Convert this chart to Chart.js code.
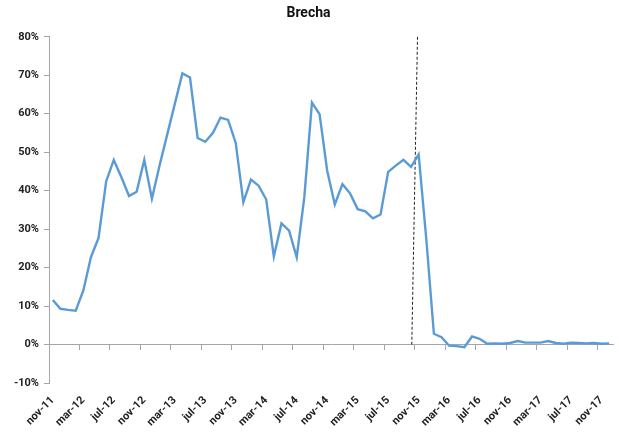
<!DOCTYPE html>
<html>
<head>
<meta charset="utf-8">
<script src="https://cdn.jsdelivr.net/npm/chart.js@4"></script>
<style>
  html, body { margin: 0; padding: 0; background: #fff; }
  #wrap { width: 619px; height: 433px; }
</style>
</head>
<body>
<div id="wrap"><canvas id="chart" width="619" height="433"></canvas></div>
<script>
const months = [
  "nov-11", "dic-11",
  "ene-12", "feb-12", "mar-12", "abr-12", "may-12", "jun-12", "jul-12", "ago-12", "sep-12", "oct-12", "nov-12", "dic-12",
  "ene-13", "feb-13", "mar-13", "abr-13", "may-13", "jun-13", "jul-13", "ago-13", "sep-13", "oct-13", "nov-13", "dic-13",
  "ene-14", "feb-14", "mar-14", "abr-14", "may-14", "jun-14", "jul-14", "ago-14", "sep-14", "oct-14", "nov-14", "dic-14",
  "ene-15", "feb-15", "mar-15", "abr-15", "may-15", "jun-15", "jul-15", "ago-15", "sep-15", "oct-15", "nov-15", "dic-15",
  "ene-16", "feb-16", "mar-16", "abr-16", "may-16", "jun-16", "jul-16", "ago-16", "sep-16", "oct-16", "nov-16", "dic-16",
  "ene-17", "feb-17", "mar-17", "abr-17", "may-17", "jun-17", "jul-17", "ago-17", "sep-17", "oct-17", "nov-17", "dic-17"
];

// brecha, en %
const brecha = [
  11.6, 9.3,
  9.0, 8.8, 14.0, 22.7, 27.7, 42.4, 48.0, 43.5, 38.6, 39.7, 48.0, 37.9,
  46.5, 54.5, 62.5, 70.5, 69.4, 53.7, 52.7, 55.0, 59.0, 58.4, 52.4, 37.0,
  42.9, 41.3, 37.7, 22.9, 31.5, 29.6, 22.7, 38.3, 62.9, 59.9, 45.2, 36.4,
  41.7, 39.3, 35.2, 34.6, 32.8, 33.8, 44.9, 46.5, 48.0, 46.2, 49.4, 27.5,
  2.8, 1.9, -0.3, -0.4, -0.7, 2.1, 1.5, 0.2, 0.3, 0.2, 0.4, 0.9,
  0.5, 0.5, 0.5, 0.9, 0.4, 0.2, 0.5, 0.4, 0.3, 0.4, 0.2, 0.3
];

// linea vertical punteada (posicion en indice de mes, valor en %)
const corte = [
  { x: 47.85, y: 80 },
  { x: 47.1, y: 0 }
];

const yMin = -10;
const yMax = 80;
const yStep = 10;
const labelEvery = 4;

const tickFont = { family: "Roboto", size: 11, weight: "bold" };
const axisGray = "#a6a6a6";

new Chart(document.getElementById("chart"), {
  type: "line",
  data: {
    labels: months,
    datasets: [
      {
        label: "Brecha",
        data: brecha,
        borderColor: "#5b9bd5",
        borderWidth: 2.4,
        pointRadius: 0,
        tension: 0,
        xAxisID: "x",
        yAxisID: "y"
      },
      {
        label: "corte",
        data: corte,
        borderColor: "#222",
        borderWidth: 1,
        borderDash: [3, 2],
        pointRadius: 0,
        xAxisID: "xl",
        yAxisID: "y"
      }
    ]
  },
  options: {
    responsive: false,
    animation: false,
    layout: { padding: { left: 4, right: 6, top: 0, bottom: 0 } },
    plugins: {
      legend: { display: false },
      tooltip: { enabled: false },
      title: {
        display: true,
        text: "Brecha",
        color: "#111",
        font: { family: "Roboto", size: 14, weight: "bold" },
        padding: { top: 5, bottom: 15 }
      }
    },
    scales: {
      x: {
        type: "category",
        offset: true,
        border: { display: false },
        grid: { display: false, drawTicks: true, tickLength: 6 },
        ticks: {
          autoSkip: false,
          maxRotation: 45,
          minRotation: 45,
          padding: 5,
          color: "#222",
          font: tickFont,
          callback: function (value, index) {
            return index % labelEvery === 0 ? this.getLabelForValue(value) : null;
          }
        },
        afterFit: (scale) => { scale.height = 50; }
      },
      x0: {
        type: "category",
        position: { y: 0 },
        offset: true,
        border: { display: true, color: axisGray, width: 1 },
        grid: {
          offset: true,
          drawOnChartArea: false,
          drawTicks: true,
          tickLength: 5,
          color: (ctx) => (ctx.index % labelEvery === 0 ? axisGray : "rgba(0,0,0,0)")
        },
        ticks: { display: false, autoSkip: false }
      },
      xl: {
        type: "linear",
        display: false,
        min: -0.5,
        max: months.length - 0.5
      },
      y: {
        min: yMin,
        max: yMax,
        border: { display: true, color: axisGray, width: 1 },
        grid: { drawOnChartArea: false, drawTicks: true, tickLength: 5, color: axisGray },
        ticks: {
          stepSize: yStep,
          padding: 5,
          color: "#222",
          font: tickFont,
          callback: (v) => v + "%"
        },
        afterFit: (scale) => { scale.width = 45; }
      }
    }
  }
});
</script>
</body>
</html>
